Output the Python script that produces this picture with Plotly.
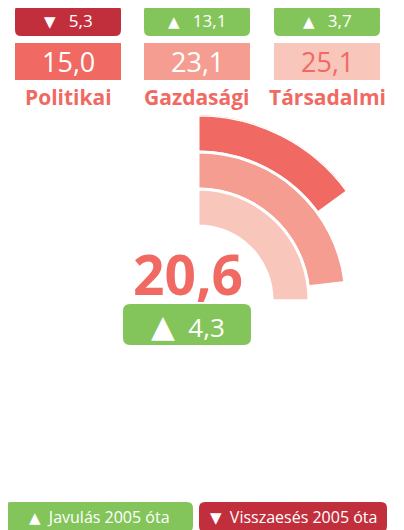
import plotly.graph_objects as go

# data
categories = ["Politikai", "Gazdasági", "Társadalmi"]
values = [15.0, 23.1, 25.1]
changes = [-5.3, 13.1, 3.7]
total_value = 20.6
total_change = 4.3
legend_labels = ["Javulás 2005 óta", "Visszaesés 2005 óta"]

W, H = 404, 530
OFF = 8  # page body margin
RED = "#f06a63"
bar_colors = ["#f06a63", "#f49d90", "#f9c6bb"]
value_text_colors = ["white", "white", "#f06a63"]
UP = "#84c55b"
DOWN = "#c12f3d"
FONT = "Open Sans"
NB = "\u00a0"


def px(x):
    return (x - OFF) / W


def py(y):
    return 1 - (y - OFF) / H


def fmt(v):
    return f"{abs(v):.1f}".replace(".", ",")


def tri(up, size):
    return (f'<span style="font-family:DejaVu Sans;font-size:{size}px">'
            f'{"▲" if up else "▼"}</span>')


def rounded_box(x0, y0, x1, y1, r, color):
    # rounded rectangle in pixel units, converted to paper coords
    p = [
        f"M {px(x0 + r)},{py(y0)}",
        f"L {px(x1 - r)},{py(y0)}",
        f"Q {px(x1)},{py(y0)} {px(x1)},{py(y0 + r)}",
        f"L {px(x1)},{py(y1 - r)}",
        f"Q {px(x1)},{py(y1)} {px(x1 - r)},{py(y1)}",
        f"L {px(x0 + r)},{py(y1)}",
        f"Q {px(x0)},{py(y1)} {px(x0)},{py(y1 - r)}",
        f"L {px(x0)},{py(y0 + r)}",
        f"Q {px(x0)},{py(y0)} {px(x0 + r)},{py(y0)} Z",
    ]
    return dict(type="path", path=" ".join(p), xref="paper", yref="paper",
                fillcolor=color, line=dict(width=0), layer="below")


def label(x, y, text, size, color, bold=False):
    return dict(x=px(x), y=py(y), xref="paper", yref="paper", text=text,
                showarrow=False, xanchor="center", yanchor="middle",
                font=dict(family=FONT, size=size, color=color,
                          weight="bold" if bold else "normal"))


fig = go.Figure()

# radial bars: outer ring first category
ring = 37
hole = 74
for i, (cat, v) in enumerate(zip(categories, values)):
    level = len(categories) - 1 - i
    fig.add_trace(go.Barpolar(
        r=[ring], base=[hole + level * ring],
        theta=[v * 3.6 / 2], width=[v * 3.6],
        name=cat,
        marker=dict(color=bar_colors[i], line=dict(color="white", width=3)),
        hoverinfo="skip",
    ))

shapes = []
annotations = []
centers = [68, 197, 327]
for i, cat in enumerate(categories):
    cx = centers[i]
    c = changes[i]
    shapes.append(rounded_box(cx - 53, 5, cx + 53, 36, 6, UP if c >= 0 else DOWN))
    annotations.append(label(cx, 21, tri(c >= 0, 15) + NB * 3 + fmt(c), 17, "white"))
    shapes.append(dict(type="rect", xref="paper", yref="paper",
                       x0=px(cx - 53), x1=px(cx + 53), y0=py(43), y1=py(80),
                       fillcolor=bar_colors[i], line=dict(width=0), layer="below"))
    annotations.append(label(cx, 62, fmt(values[i]), 27, value_text_colors[i]))
    annotations.append(label(cx, 97, cat, 21, RED, bold=True))

annotations.append(label(187.5, 273, fmt(total_value), 55, RED, bold=True))
shapes.append(rounded_box(123, 304, 251, 345, 7, UP if total_change >= 0 else DOWN))
annotations.append(label(188, 326, tri(total_change >= 0, 31) + NB * 2 + fmt(total_change),
                         26, "white"))

# legend boxes
shapes.append(rounded_box(5, 502, 193, 532, 6, UP))
annotations.append(label(99, 517, tri(True, 15) + NB * 2 + legend_labels[0], 16, "white"))
shapes.append(rounded_box(199, 502, 387, 532, 6, DOWN))
annotations.append(label(293, 517, tri(False, 15) + NB * 2 + legend_labels[1], 16, "white"))

R = hole + len(categories) * ring
cx0, cy0 = 198, 300
fig.update_layout(
    width=W, height=H,
    margin=dict(l=0, r=0, t=0, b=0),
    paper_bgcolor="white",
    showlegend=False,
    font=dict(family=FONT),
    polar=dict(
        domain=dict(x=[px(cx0 - R), px(cx0 + R)], y=[py(cy0 + R), py(cy0 - R)]),
        bgcolor="rgba(0,0,0,0)",
        radialaxis=dict(visible=False, range=[0, R]),
        angularaxis=dict(visible=False, rotation=90, direction="clockwise"),
        barmode="overlay",
    ),
    shapes=shapes,
    annotations=annotations,
)

fig.write_html("out.html")
